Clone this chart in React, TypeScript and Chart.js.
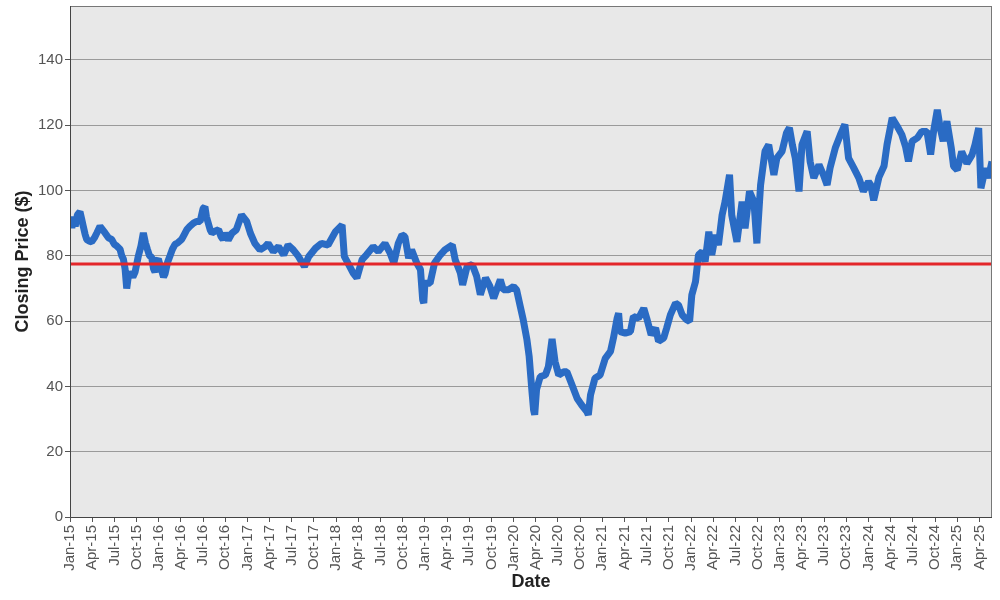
import React, { useEffect, useRef } from "react";
import { Chart, registerables } from "chart.js";

Chart.register(...registerables);

// x axis labels, one every 3 months starting Jan 2015
const tickLabels = [
  "Jan-15", "Apr-15", "Jul-15", "Oct-15", "Jan-16", "Apr-16", "Jul-16", "Oct-16",
  "Jan-17", "Apr-17", "Jul-17", "Oct-17", "Jan-18", "Apr-18", "Jul-18", "Oct-18",
  "Jan-19", "Apr-19", "Jul-19", "Oct-19", "Jan-20", "Apr-20", "Jul-20", "Oct-20",
  "Jan-21", "Apr-21", "Jul-21", "Oct-21", "Jan-22", "Apr-22", "Jul-22", "Oct-22",
  "Jan-23", "Apr-23", "Jul-23", "Oct-23", "Jan-24", "Apr-24", "Jul-24", "Oct-24",
  "Jan-25", "Apr-25",
];

// months since Jan 2015
const priceMonths = [
  0.05, 0.25, 0.45, 0.7, 1.0, 1.35, 1.6, 1.8, 2.05, 2.26,
  2.6, 2.93, 3.3, 3.61, 4.06, 4.4, 4.74, 5.2, 5.64, 6.0,
  6.32, 6.77, 7.0, 7.22, 7.45, 7.67, 7.85, 8.12, 8.5, 8.8,
  9.25, 9.6, 9.92, 10.2, 10.47, 10.75, 11.05, 11.3, 11.5, 11.75,
  11.95, 12.2, 12.4, 12.65, 12.86, 13.2, 13.53, 13.85, 14.2, 14.6,
  15.1, 15.45, 15.8, 16.2, 16.7, 17.1, 17.6, 17.85, 18.0, 18.25,
  18.45, 18.7, 18.95, 19.2, 19.6, 20.1, 20.4, 20.7, 21.0, 21.4,
  21.9, 22.5, 23.2, 23.9, 24.4, 25.0, 25.7, 26.4, 26.8, 27.5,
  28.2, 28.9, 29.5, 30.2, 30.9, 31.7, 32.3, 33.2, 34.0, 34.9,
  35.9, 36.8, 37.1, 37.7, 38.3, 38.8, 39.5, 40.1, 41.0, 41.7,
  42.6, 43.3, 43.8, 44.4, 44.9, 45.3, 45.8, 46.2, 46.9, 47.4,
  47.7, 47.85, 48.0, 48.7, 49.3, 50.1, 50.7, 51.7, 52.1, 52.8,
  53.1, 53.7, 54.4, 55.0, 55.5, 56.2, 56.8, 57.3, 58.2, 58.6,
  59.3, 60.0, 60.4, 60.9, 61.3, 61.8, 62.1, 62.5, 62.7, 62.85,
  63.1, 63.6, 64.3, 64.7, 65.2, 65.6, 66.1, 66.8, 67.2, 67.9,
  68.6, 69.2, 69.9, 70.1, 70.4, 71.0, 71.7, 72.4, 73.1, 73.5,
  74.0, 74.2, 74.4, 75.1, 75.8, 76.2, 76.9, 77.6, 78.0, 78.6,
  79.2, 79.6, 80.3, 80.7, 81.2, 81.9, 82.3, 82.8, 83.4, 83.8,
  84.1, 84.6, 85.0, 85.5, 85.9, 86.4, 86.8, 87.3, 87.7, 88.2,
  88.6, 89.2, 89.5, 90.2, 90.9, 91.3, 91.9, 92.5, 92.9, 93.4,
  94.0, 94.5, 95.2, 95.6, 96.3, 96.9, 97.3, 97.7, 98.1, 98.6,
  99.0, 99.7, 100.1, 100.6, 101.3, 101.9, 102.4, 102.8, 103.5, 104.2,
  104.8, 105.3, 106.0, 106.7, 107.3, 108.0, 108.3, 108.7, 109.4, 110.1,
  110.5, 111.2, 111.9, 112.5, 113.0, 113.4, 113.9, 114.6, 115.2, 115.9,
  116.4, 116.8, 117.3, 117.7, 118.1, 118.6, 119.2, 119.5, 120.0, 120.6,
  121.3, 122.0, 122.4, 122.9, 123.2, 123.8, 124.2, 124.7,
];

const closingPrices = [
  91, 88.5, 92, 89, 92.5, 93.5, 91, 89, 86.5, 85,
  84.5, 84.3, 85.5, 86.9, 89, 88, 87, 85.5, 85, 83.5,
  83, 82, 80, 79, 76, 70, 73, 75, 73.5, 75,
  80, 83, 87, 84, 82, 80, 79.5, 76, 75, 78.5,
  79, 77, 75.5, 73.5, 74.5, 78, 80, 82, 83.5, 84,
  85, 86.5, 88, 89, 90, 90.5, 90.5, 93, 94.5, 95,
  92, 90, 88, 87, 87.5, 88, 86, 85, 86.9, 84.8,
  86.9, 88, 92.5, 90.5, 86.9, 83.8, 81.8, 82.8, 83.8, 81.3,
  82.8, 80.3, 83.3, 81.8, 79.8, 76.7, 79.8, 82.3, 83.8, 83.3,
  87.4, 89.4, 79.8, 77.3, 74.7, 73.2, 78.8, 80.3, 82.8, 81.3,
  83.8, 80.8, 77.8, 83.8, 86.4, 85.9, 79.3, 81.8, 77.8, 75.8,
  66.5, 65.5, 71.6, 71.6, 77.8, 80.3, 81.8, 83.3, 78.8, 74.7,
  71.1, 76.7, 77.3, 73.7, 68.1, 73.2, 70.6, 67.0, 72.7, 69.6,
  69.6, 70.6, 69.6, 64.5, 60.4, 54.3, 49.2, 37.9, 32.8, 31.3,
  39, 43, 43.5, 46, 54.5, 47.6, 43.5, 44.5, 44.5, 40.4,
  36.3, 34.3, 32.3, 31.3, 37.4, 42.5, 43.5, 48.6, 50.7, 54.8,
  60.9, 62.4, 56.8, 56.3, 56.8, 61.4, 60.9, 63.9, 60.9, 55.8,
  57.9, 53.8, 54.8, 57.9, 61.9, 65.5, 64.9, 61.9, 60.4, 59.9,
  68, 72.1, 80.3, 81.3, 78.2, 87.4, 80.3, 86.4, 83.3, 92.5,
  96.6, 104.8, 92.5, 84.3, 96.6, 88.4, 99.7, 96.6, 83.8, 101.7,
  112, 114, 104.8, 109.9, 112, 117.6, 119.2, 114, 109.9, 99.7,
  114, 118.1, 108.9, 103.8, 107.9, 104.8, 101.7, 106.9, 113, 117.1,
  120.2, 109.9, 106.9, 103.8, 99.7, 102.7, 101.7, 97, 104, 107.5,
  114, 122.2, 119.6, 117.1, 113.5, 108.9, 115.1, 116.1, 118.1, 118.1,
  111, 118.1, 124.7, 119.1, 115.1, 121.2, 112.9, 107.4, 106.3, 111.9,
  108.3, 110.9, 114, 119.1, 100.7, 106.8, 103.8, 108.9,
];

const averagePrice = 77.5;
const monthMin = 0;
const monthMax = 124.7;
const priceMax = 156.5;

const FONT = "'Liberation Sans', Arial, Helvetica, sans-serif";

// grey plot background + frame
const plotFrame = {
  id: "plotFrame",
  beforeDraw(chart: any) {
    const { ctx, chartArea: a } = chart;
    ctx.save();
    ctx.fillStyle = "#e8e8e8";
    ctx.fillRect(a.left, a.top, a.right - a.left, a.bottom - a.top);
    ctx.restore();
  },
  afterDraw(chart: any) {
    const { ctx, chartArea: a } = chart;
    ctx.save();
    ctx.lineWidth = 1;
    ctx.strokeStyle = "#777";
    ctx.strokeRect(a.left + 0.5, a.top + 0.5, a.right - a.left - 1, a.bottom - a.top);
    ctx.strokeStyle = "#444";
    ctx.beginPath();
    ctx.moveTo(a.left + 0.5, a.top);
    ctx.lineTo(a.left + 0.5, a.bottom + 0.5);
    ctx.lineTo(a.right, a.bottom + 0.5);
    ctx.stroke();
    ctx.restore();
  },
};

const PriceChart: React.FC = () => {
  const canvasRef = useRef<HTMLCanvasElement>(null);

  useEffect(() => {
    document.body.style.margin = "0";
    if (!canvasRef.current) return;

    const chart = new Chart(canvasRef.current, {
      type: "line",
      data: {
        datasets: [
          {
            label: "Average",
            data: [
              { x: monthMin, y: averagePrice },
              { x: monthMax, y: averagePrice },
            ],
            borderColor: "#e3262a",
            borderWidth: 3,
            pointRadius: 0,
            clip: 0,
          },
          {
            label: "Closing Price",
            data: priceMonths.map((m, i) => ({ x: m, y: closingPrices[i] })),
            borderColor: "#2a6bc4",
            borderWidth: 7,
            borderJoinStyle: "bevel",
            pointRadius: 0,
            tension: 0,
            clip: 0,
          },
        ],
      },
      options: {
        responsive: false,
        animation: false,
        layout: { padding: { top: 6, right: 8, left: 0, bottom: 0 } },
        plugins: {
          legend: { display: false },
          tooltip: { enabled: false },
        },
        scales: {
          x: {
            type: "linear",
            min: monthMin,
            max: monthMax,
            afterFit: (scale: any) => {
              scale.height = 83;
              scale.paddingLeft = 0;
              scale.paddingRight = 0;
            },
            grid: {
              drawOnChartArea: false,
              drawTicks: true,
              tickLength: 5,
              tickColor: "#555",
            },
            border: { display: false },
            ticks: {
              stepSize: 3,
              includeBounds: false,
              autoSkip: false,
              maxRotation: 90,
              minRotation: 90,
              padding: 3,
              color: "#555",
              font: { family: FONT, size: 15 },
              callback: (value: any) => tickLabels[Math.round(Number(value) / 3)] ?? "",
            },
            title: {
              display: true,
              text: "Date",
              color: "#222",
              font: { family: FONT, size: 18, weight: "bold" },
              padding: { top: 0, bottom: 7 },
            },
          },
          y: {
            min: 0,
            max: priceMax,
            afterFit: (scale: any) => {
              scale.width = 70;
              scale.paddingTop = 0;
              scale.paddingBottom = 0;
            },
            afterBuildTicks: (scale: any) => {
              scale.ticks = scale.ticks.filter((t: any) => t.value % 20 === 0);
            },
            grid: {
              color: "#9a9a9a",
              lineWidth: 1,
              tickLength: 5,
              tickColor: "#555",
            },
            border: { display: false },
            ticks: {
              stepSize: 20,
              padding: 2,
              color: "#555",
              font: { family: FONT, size: 15 },
            },
            title: {
              display: true,
              text: "Closing Price ($)",
              color: "#222",
              font: { family: FONT, size: 18, weight: "bold" },
              padding: { top: 12, bottom: 0 },
            },
          },
        },
      },
      plugins: [plotFrame],
    });

    return () => {
      chart.destroy();
    };
  }, []);

  return <canvas ref={canvasRef} width={1000} height={600} style={{ display: "block" }} />;
};

export default function App() {
  return (
    <div style={{ width: 1000, height: 600, background: "#fff" }}>
      <PriceChart />
    </div>
  );
}
